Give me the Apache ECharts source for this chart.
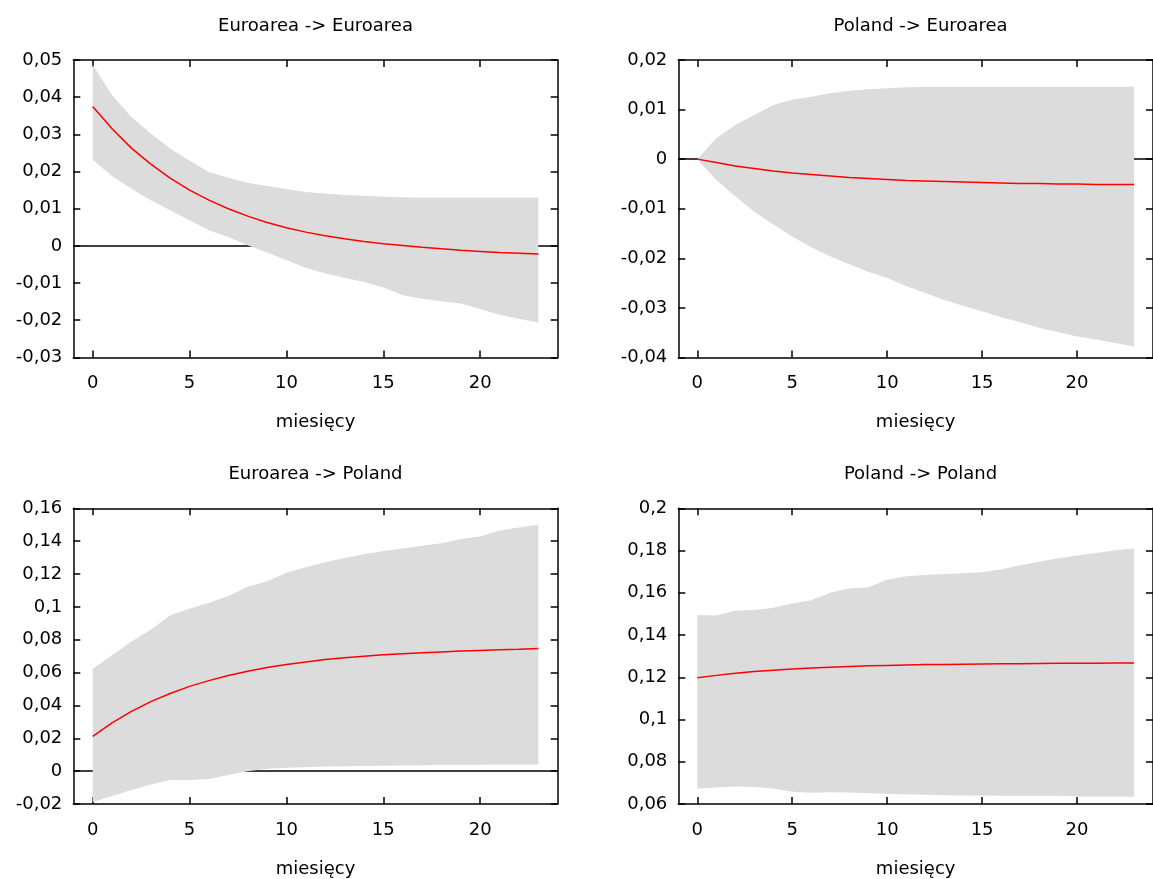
<!DOCTYPE html>
<html>
<head>
<meta charset="utf-8">
<script src="https://cdn.jsdelivr.net/npm/echarts@6/dist/echarts.min.js"></script>
<style>
  html, body { margin: 0; padding: 0; background: #fff; }
  #chart { width: 1153px; height: 879px; }
</style>
</head>
<body>
<div id="chart"></div>
<script>
const months = [0, 1, 2, 3, 4, 5, 6, 7, 8, 9, 10, 11, 12, 13, 14, 15, 16, 17, 18, 19, 20, 21, 22, 23];
const xTicks = [0, 5, 10, 15, 20];

// Euroarea -> Euroarea
const eaEaIrf = [0.0375, 0.0315, 0.0263, 0.0220, 0.0182, 0.0150, 0.0123, 0.0100, 0.0080, 0.0063, 0.0049, 0.0037,
  0.0027, 0.0019, 0.0012, 0.0006, 0.0001, -0.0004, -0.0008, -0.0012, -0.0015, -0.0018, -0.0020, -0.0022];
const eaEaHi = [0.0487, 0.0405, 0.0347, 0.0302, 0.0262, 0.0229, 0.0199, 0.0183, 0.0170, 0.0161, 0.0153, 0.0145,
  0.0141, 0.0137, 0.0135, 0.0132, 0.0131, 0.0130, 0.0130, 0.0130, 0.0130, 0.0130, 0.0130, 0.0130];
const eaEaLo = [0.0232, 0.0188, 0.0154, 0.0123, 0.0096, 0.0069, 0.0042, 0.0024, 0.0002, -0.0018, -0.0039, -0.0059,
  -0.0074, -0.0086, -0.0097, -0.0112, -0.0133, -0.0142, -0.0149, -0.0155, -0.0170, -0.0185, -0.0196, -0.0206];

// Poland -> Euroarea
const plEaIrf = [0, -0.0007, -0.0014, -0.0019, -0.0024, -0.0028, -0.0031, -0.0034, -0.0037, -0.0039, -0.0041, -0.0043,
  -0.0044, -0.0045, -0.0046, -0.0047, -0.0048, -0.0049, -0.0049, -0.0050, -0.0050, -0.0051, -0.0051, -0.0051];
const plEaHi = [0, 0.0042, 0.0069, 0.0089, 0.0109, 0.0120, 0.0126, 0.0133, 0.0138, 0.0141, 0.0143, 0.0145,
  0.0146, 0.0146, 0.0146, 0.0146, 0.0146, 0.0146, 0.0146, 0.0146, 0.0146, 0.0146, 0.0146, 0.0146];
const plEaLo = [0, -0.0042, -0.0075, -0.0106, -0.0132, -0.0156, -0.0178, -0.0196, -0.0212, -0.0227, -0.0240, -0.0256,
  -0.0270, -0.0284, -0.0296, -0.0307, -0.0319, -0.0329, -0.0340, -0.0349, -0.0358, -0.0364, -0.0371, -0.0378];

// Euroarea -> Poland
const eaPlIrf = [0.0212, 0.0294, 0.0364, 0.0423, 0.0473, 0.0516, 0.0551, 0.0582, 0.0608, 0.0631, 0.0649, 0.0665,
  0.0679, 0.0690, 0.0700, 0.0708, 0.0715, 0.0721, 0.0726, 0.0731, 0.0735, 0.0739, 0.0742, 0.0746];
const eaPlHi = [0.0622, 0.0706, 0.0789, 0.0860, 0.0949, 0.0989, 0.1025, 0.1066, 0.1122, 0.1156, 0.1207, 0.1241,
  0.1271, 0.1298, 0.1320, 0.1340, 0.1356, 0.1372, 0.1388, 0.1413, 0.1429, 0.1465, 0.1483, 0.1500];
const eaPlLo = [-0.0190, -0.0151, -0.0115, -0.0081, -0.0054, -0.0054, -0.0048, -0.0024, 0.0000, 0.0014, 0.0020, 0.0024,
  0.0028, 0.0030, 0.0032, 0.0033, 0.0035, 0.0036, 0.0037, 0.0038, 0.0039, 0.0040, 0.0040, 0.0040];

// Poland -> Poland
const plPlIrf = [0.1198, 0.1209, 0.1219, 0.1227, 0.1233, 0.1239, 0.1244, 0.1248, 0.1251, 0.1254, 0.1256, 0.1258,
  0.1260, 0.1261, 0.1262, 0.1263, 0.1264, 0.1264, 0.1265, 0.1266, 0.1266, 0.1266, 0.1267, 0.1267];
const plPlHi = [0.1495, 0.1493, 0.1515, 0.1518, 0.1529, 0.1549, 0.1565, 0.1600, 0.1620, 0.1626, 0.1662, 0.1678,
  0.1684, 0.1689, 0.1692, 0.1697, 0.1710, 0.1730, 0.1747, 0.1763, 0.1776, 0.1788, 0.1801, 0.1810];
const plPlLo = [0.0672, 0.0678, 0.0683, 0.0681, 0.0673, 0.0658, 0.0653, 0.0656, 0.0655, 0.0651, 0.0648, 0.0645,
  0.0644, 0.0642, 0.0640, 0.0640, 0.0639, 0.0639, 0.0639, 0.0639, 0.0636, 0.0636, 0.0635, 0.0634];

const FONT = "'DejaVu Sans', Verdana, sans-serif";
const BAND = '#dcdcdc';
const BOX_W = 484.4;
const BOX_H = 297.4;

const panels = [
  { title: 'Euroarea -> Euroarea', irf: eaEaIrf, lo: eaEaLo, hi: eaEaHi, yMin: -0.03, yMax: 0.05, step: 0.01, left: 73.3, top: 60, titleY: 26 },
  { title: 'Poland -> Euroarea', irf: plEaIrf, lo: plEaLo, hi: plEaHi, yMin: -0.04, yMax: 0.02, step: 0.01, left: 678.3, top: 60, titleY: 26 },
  { title: 'Euroarea -> Poland', irf: eaPlIrf, lo: eaPlLo, hi: eaPlHi, yMin: -0.02, yMax: 0.16, step: 0.02, left: 73.3, top: 508.3, titleY: 474 },
  { title: 'Poland -> Poland', irf: plPlIrf, lo: plPlLo, hi: plPlHi, yMin: 0.06, yMax: 0.2, step: 0.02, left: 678.3, top: 508.3, titleY: 474 },
];

const fmt = v => String(+v.toFixed(3)).replace('.', ',');
const axisLine = { show: true, onZero: false, lineStyle: { color: '#000', width: 1.5 } };
const axisTick = { show: true, inside: true, length: 7, lineStyle: { color: '#000', width: 1.5 } };
const textStyle = { color: '#000', fontSize: 18, fontFamily: FONT };

// whole confidence band as one polygon: upper edge forward, lower edge back
function bandRenderer(rows) {
  return (params, api) => {
    if (params.dataIndex !== 0) return null;
    const upper = rows.map(r => api.coord([r[0], r[2]]));
    const lower = rows.map(r => api.coord([r[0], r[1]])).reverse();
    return {
      type: 'polygon',
      shape: { points: upper.concat(lower) },
      style: { fill: BAND, stroke: null },
    };
  };
}

const grid = [], xAxis = [], yAxis = [], series = [], graphic = [];

panels.forEach((p, i) => {
  grid.push({ left: p.left, top: p.top, width: BOX_W, height: BOX_H });

  xAxis.push({
    gridIndex: i, type: 'value', position: 'bottom', min: -1, max: 24,
    axisLine, axisTick: { ...axisTick, customValues: xTicks },
    axisLabel: { ...textStyle, customValues: xTicks, margin: 17 },
    splitLine: { show: false },
    name: 'miesięcy', nameLocation: 'middle', nameGap: 56, nameTextStyle: textStyle,
  });
  xAxis.push({
    gridIndex: i, type: 'value', position: 'top', min: -1, max: 24,
    axisLine, axisTick: { ...axisTick, customValues: xTicks },
    axisLabel: { show: false }, splitLine: { show: false },
  });
  yAxis.push({
    gridIndex: i, type: 'value', position: 'left', min: p.yMin, max: p.yMax, interval: p.step,
    axisLine, axisTick,
    // gnuplot puts the tick labels a few px below their ticks
    axisLabel: { ...textStyle, margin: 11, padding: [5, 0, 0, 0], formatter: fmt },
    splitLine: { show: false },
  });
  yAxis.push({
    gridIndex: i, type: 'value', position: 'right', min: p.yMin, max: p.yMax, interval: p.step,
    axisLine, axisTick, axisLabel: { show: false }, splitLine: { show: false },
  });

  const ax = { xAxisIndex: 2 * i, yAxisIndex: 2 * i };
  const rows = months.map((m, k) => [m, p.lo[k], p.hi[k]]);
  const band = {
    ...ax, type: 'custom', z: 2, silent: true,
    encode: { x: 0, y: [1, 2] },
    renderItem: bandRenderer(rows),
    data: rows,
  };
  if (p.yMin < 0) {
    band.markLine = {
      silent: true, symbol: 'none', z: 1, label: { show: false },
      lineStyle: { color: '#000', width: 1.5, type: 'solid' },
      data: [{ yAxis: 0 }],
    };
  }
  series.push(band);
  series.push({
    ...ax, type: 'line', symbol: 'none', z: 3, silent: true,
    lineStyle: { color: '#ff0000', width: 1.5 },
    data: months.map((m, k) => [m, p.irf[k]]),
  });

  graphic.push({
    type: 'text', x: p.left + BOX_W / 2, y: p.titleY, silent: true,
    style: { text: p.title, fill: '#000', font: '18px ' + FONT, align: 'center', verticalAlign: 'middle' },
  });
});

const chart = echarts.init(document.getElementById('chart'));
chart.setOption({
  animation: false,
  backgroundColor: '#fff',
  grid, xAxis, yAxis, series, graphic,
});
</script>
</body>
</html>
